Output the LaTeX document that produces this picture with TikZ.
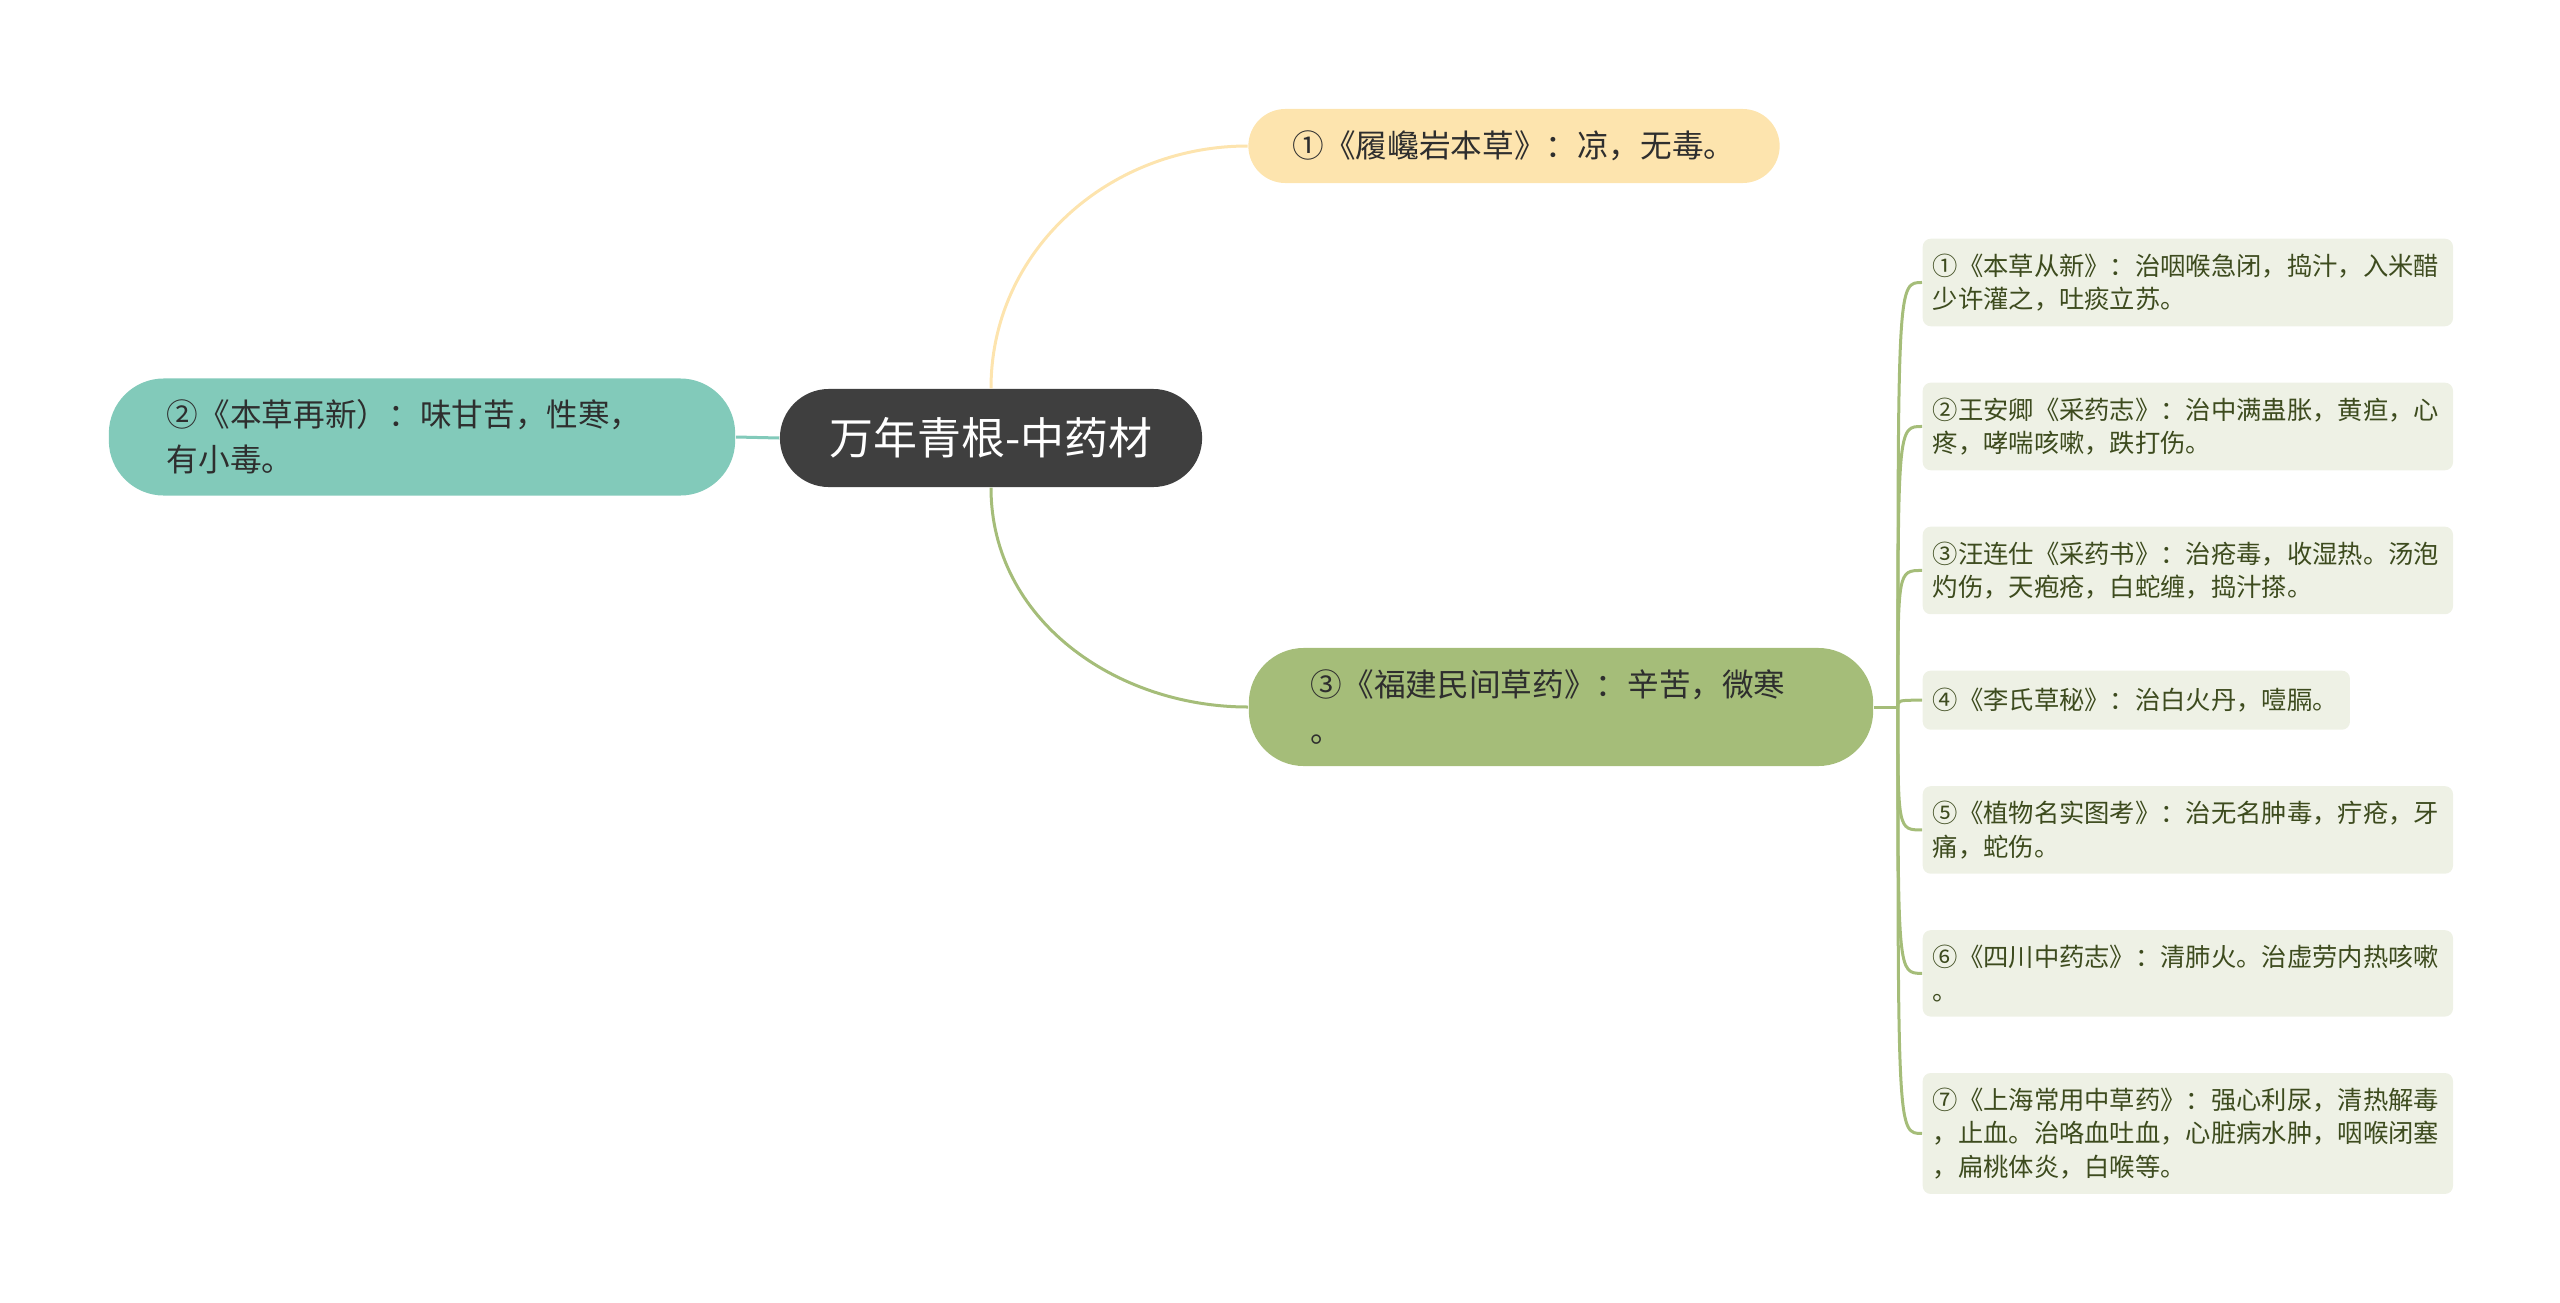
\documentclass[tikz,border=0pt]{standalone}
\usepackage{fontspec}
\setmainfont{Noto Sans CJK SC}
\usepackage{tikz}
\usetikzlibrary{positioning}
\definecolor{rootfill}{HTML}{3F3F3F}
\definecolor{yellowfill}{HTML}{FDE4AE}
\definecolor{tealfill}{HTML}{82CABA}
\definecolor{greenfill}{HTML}{A5BD79}
\definecolor{leaffill}{HTML}{EEF1E5}
\definecolor{leaftext}{HTML}{3D4B1E}
\definecolor{textdark}{HTML}{2E2E2E}

\begin{document}
\begin{tikzpicture}[x=0.01cm, y=-0.01cm, node distance=0.55cm,
  rootbox/.style={fill=rootfill, text=white, rounded corners=0.49cm, minimum width=4.22cm, minimum height=0.98cm, font=\fontsize{12.5}{15}\selectfont},
  subbox/.style={align=left, text=textdark, font=\fontsize{9}{12.9}\selectfont},
  leafbox/.style={fill=leaffill, text=leaftext, rounded corners=0.08cm, align=left, text width=5.1cm, inner xsep=0.1cm, inner ysep=0.15cm, font=\fontsize{7.2}{9.5}\selectfont},
  link/.style={line width=0.03cm}]
\useasboundingbox (0,0) rectangle (2560,1303);
\node[rootbox] (root) at (991,438) {万年青根-中药材};
\node[subbox, fill=yellowfill, rounded corners=0.37cm, minimum width=5.31cm, minimum height=0.74cm] (b1) at (1514,146) {①《履巉岩本草》：凉，无毒。};
\node[subbox, fill=tealfill, rounded corners=0.55cm, text width=5.1cm, inner xsep=0.58cm, minimum height=1.17cm] (b2) at (422,437) {②《本草再新）：味甘苦，性寒，\\有小毒。};
\node[subbox, fill=greenfill, rounded corners=0.55cm, text width=5.0cm, inner xsep=0.62cm, minimum height=1.18cm] (b3) at (1561,707) {③《福建民间草药》：辛苦，微寒\\。};
\node[leafbox, anchor=north west] (l1) at (1922,238) {①《本草从新》：治咽喉急闭，捣汁，入米醋\\少许灌之，吐痰立苏。};
\node[leafbox, below=of l1.south west, anchor=north west] (l2) {②王安卿《采药志》：治中满蛊胀，黄疸，心\\疼，哮喘咳嗽，跌打伤。};
\node[leafbox, below=of l2.south west, anchor=north west] (l3) {③汪连仕《采药书》：治疮毒，收湿热。汤泡\\灼伤，天疱疮，白蛇缠，捣汁搽。};
\node[leafbox, below=of l3.south west, anchor=north west, text width=4.07cm, minimum height=0.59cm] (l4) {④《李氏草秘》：治白火丹，噎膈。};
\node[leafbox, below=of l4.south west, anchor=north west] (l5) {⑤《植物名实图考》：治无名肿毒，疔疮，牙\\痛，蛇伤。};
\node[leafbox, below=of l5.south west, anchor=north west] (l6) {⑥《四川中药志》：清肺火。治虚劳内热咳嗽\\。};
\node[leafbox, below=of l6.south west, anchor=north west] (l7) {⑦《上海常用中草药》：强心利尿，清热解毒\\，止血。治咯血吐血，心脏病水肿，咽喉闭塞\\，扁桃体炎，白喉等。};
\draw[link, yellowfill] (root.north) to[out=90, in=180] (b1.west);
\draw[link, tealfill] (root.west) -- (b2.east);
\draw[link, greenfill] (root.south) to[out=-90, in=180] (b3.west);
\coordinate[right=0.24cm of b3.east] (fork);
\draw[link, greenfill] (b3.east) -- (fork);
\foreach \l in {l1,l2,l3,l4,l5,l6,l7}
  \draw[link, greenfill] (fork) .. controls (fork |- \l.west) .. (\l.west);
\end{tikzpicture}
\end{document}
